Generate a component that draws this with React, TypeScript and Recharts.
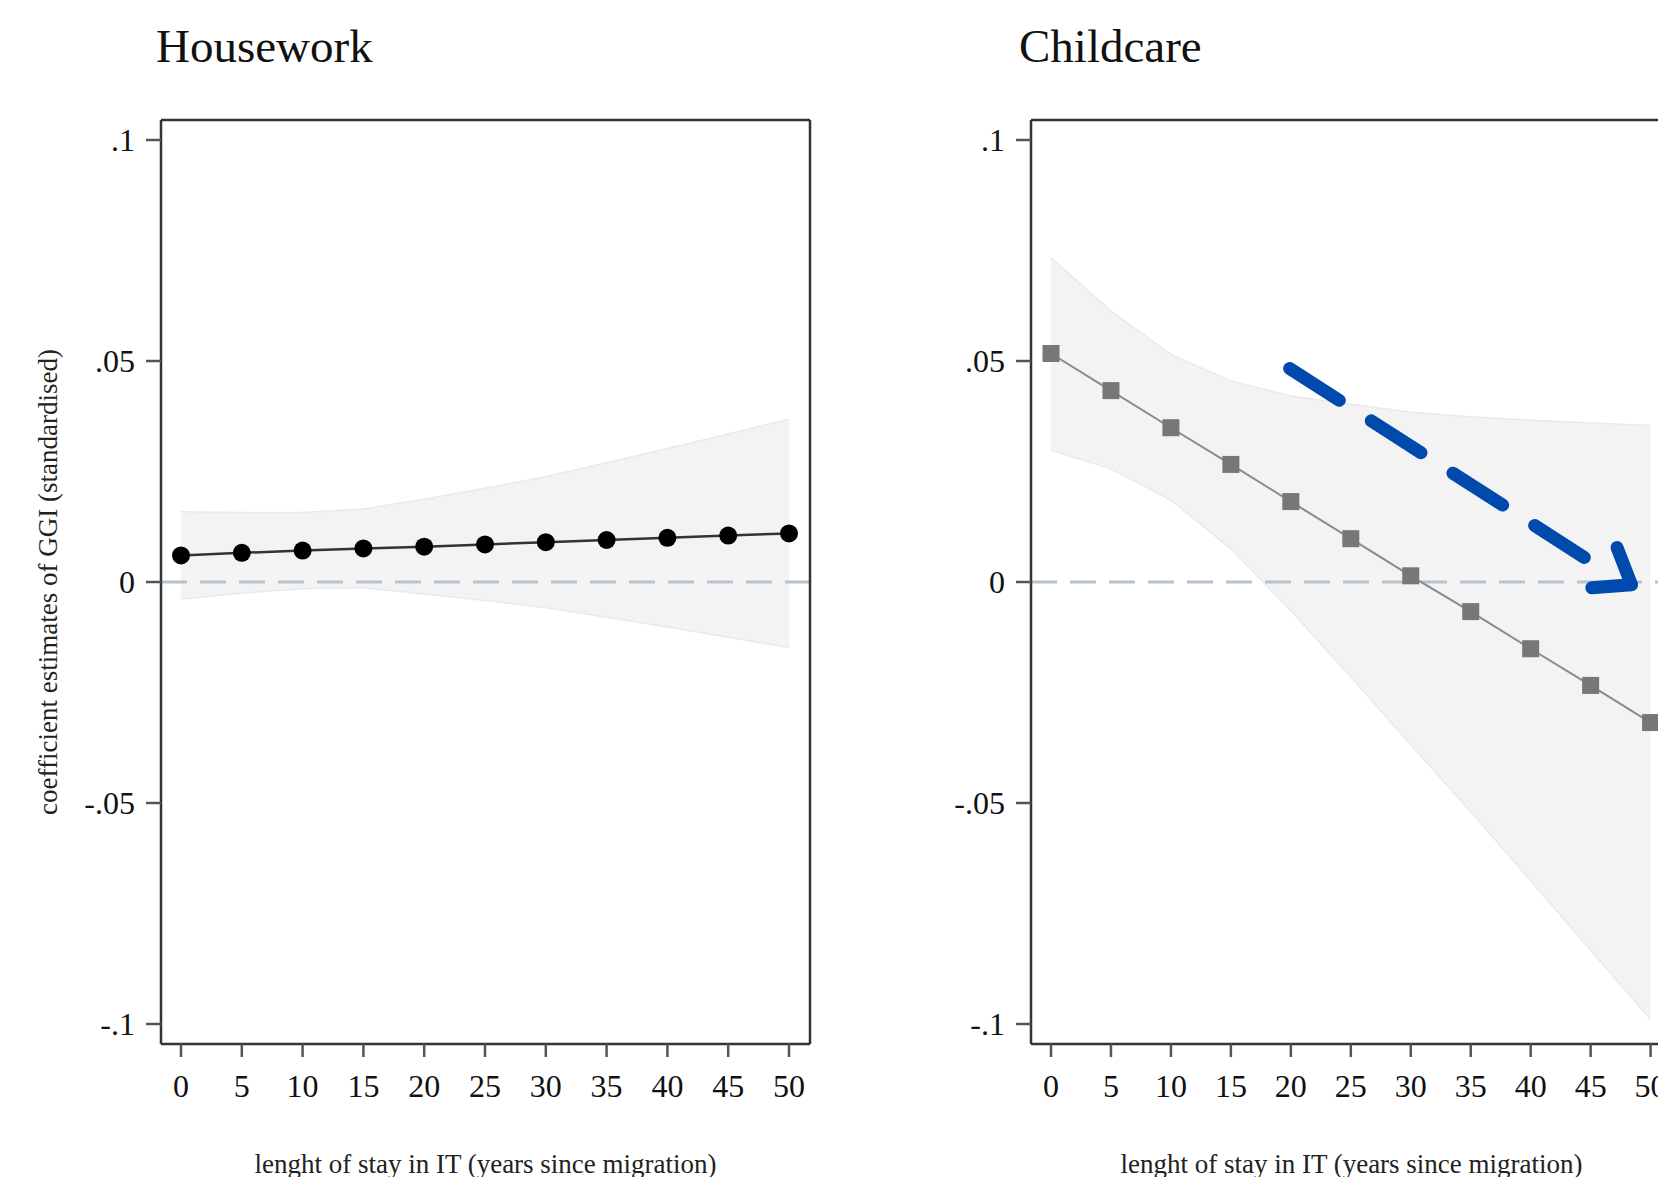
import React from 'react';
import { ComposedChart, Area, Line, XAxis, YAxis, ReferenceLine } from 'recharts';

// ---- data ----
const years = [0, 5, 10, 15, 20, 25, 30, 35, 40, 45, 50];

const houseworkEst = [0.006, 0.0066, 0.0071, 0.0076, 0.008, 0.0085, 0.009, 0.0095, 0.01, 0.0105, 0.011];
const houseworkUpper = [0.0159, 0.0157, 0.0157, 0.0165, 0.0187, 0.0212, 0.0238, 0.027, 0.0302, 0.0335, 0.0368];
const houseworkLower = [-0.0039, -0.0025, -0.0015, -0.0013, -0.0027, -0.0042, -0.0058, -0.008, -0.0102, -0.0125, -0.0148];

const childcareEst = [0.0517, 0.0433, 0.0349, 0.0266, 0.0182, 0.0098, 0.0014, -0.0067, -0.0151, -0.0234, -0.0318];
const childcareUpper = [0.0734, 0.0613, 0.0515, 0.0455, 0.0421, 0.0402, 0.0384, 0.0374, 0.0366, 0.036, 0.0354];
const childcareLower = [0.0298, 0.0256, 0.0185, 0.0075, -0.0065, -0.0215, -0.0368, -0.052, -0.0676, -0.0833, -0.099];

const xTicks = [0, 5, 10, 15, 20, 25, 30, 35, 40, 45, 50];
const yTicks = [-0.1, -0.05, 0, 0.05, 0.1];
const yTickLabels = ['-.1', '-.05', '0', '.05', '.1'];

const panelTitles = ['Housework', 'Childcare'];
const xAxisTitle = 'lenght of stay in IT (years since migration)';
const yAxisTitle = 'coefficient estimates of GGI (standardised)';

// annotation arrow (data coordinates of the Childcare panel)
const arrowShaft = [
  { x: 19.9, y: 0.0483 },
  { x: 45.6, y: 0.0036 },
];
const arrowHead = [
  { x: 47.2, y: 0.0078 },
  { x: 48.4, y: -0.0006 },
  { x: 45.1, y: -0.0013 },
];

const houseworkData = years.map((yr, i) => ({
  year: yr,
  est: houseworkEst[i],
  band: [houseworkLower[i], houseworkUpper[i]],
}));
const childcareData = years.map((yr, i) => ({
  year: yr,
  est: childcareEst[i],
  band: [childcareLower[i], childcareUpper[i]],
}));

const FONT = '"Liberation Serif", "Times New Roman", serif';
const FRAME = '#333';
const ARROW = '#004AAD';

const YLabel = (props: any) => {
  const vb = props.viewBox || {};
  const cx = (vb.x || 0) + 48;
  const cy = (vb.y || 0) + (vb.height || 0) / 2;
  return (
    <text
      x={cx}
      y={cy}
      transform={`rotate(-90 ${cx} ${cy})`}
      textAnchor="middle"
      dominantBaseline="central"
      fontSize={27}
      fontFamily={FONT}
      fill="#222"
    >
      {yAxisTitle}
    </text>
  );
};

const SquareDot = (props: any) => {
  const { cx, cy, index } = props;
  if (cx == null || cy == null) return <g key={`sq-${index}`} />;
  return <rect key={`sq-${index}`} x={cx - 8.5} y={cy - 8.5} width={17} height={17} fill="#777777" />;
};

const arrowShape = (dash?: string) => (p: any) => (
  <line
    x1={p.x1}
    y1={p.y1}
    x2={p.x2}
    y2={p.y2}
    stroke={ARROW}
    strokeWidth={13}
    strokeLinecap="round"
    strokeDasharray={dash}
    fill="none"
  />
);

type PanelProps = {
  data: any[];
  width: number;
  padRight: number;
  showYLabel: boolean;
  kind: 'circle' | 'square';
  arrow?: boolean;
};

const Panel = ({ data, width, padRight, showYLabel, kind, arrow }: PanelProps) => {
  const tickStyle = { fontSize: 32, fill: '#111', fontFamily: FONT };
  return (
    <ComposedChart width={width} height={1177} data={data} margin={{ top: 119, right: 19, bottom: 0, left: 0 }}>
      <XAxis
        dataKey="year"
        type="number"
        domain={[0, 50]}
        ticks={xTicks}
        interval={0}
        padding={{ left: 20, right: padRight }}
        height={133}
        tickSize={13}
        tickMargin={17}
        tick={tickStyle}
        tickLine={{ stroke: '#555', strokeWidth: 2.5 }}
        axisLine={{ stroke: FRAME, strokeWidth: 2.5 }}
        label={{ value: xAxisTitle, position: 'insideBottom', offset: 4, fontSize: 27, fontFamily: FONT, fill: '#222' }}
      />
      <XAxis
        xAxisId="top"
        orientation="top"
        type="number"
        domain={[0, 50]}
        height={1}
        tick={false}
        tickLine={false}
        axisLine={{ stroke: FRAME, strokeWidth: 2.5 }}
      />
      <YAxis
        type="number"
        domain={[-0.1, 0.1]}
        ticks={yTicks}
        interval={0}
        padding={{ top: 20, bottom: 20 }}
        width={161}
        tickSize={15}
        tickMargin={11}
        tick={tickStyle}
        tickFormatter={(_v: number, i: number) => yTickLabels[i]}
        tickLine={{ stroke: '#555', strokeWidth: 2.5 }}
        axisLine={{ stroke: FRAME, strokeWidth: 2.5 }}
        label={showYLabel ? <YLabel /> : undefined}
      />
      <YAxis
        yAxisId="right"
        orientation="right"
        type="number"
        domain={[-0.1, 0.1]}
        width={1}
        tick={false}
        tickLine={false}
        axisLine={{ stroke: FRAME, strokeWidth: 2.5 }}
      />
      <Area
        dataKey="band"
        type="linear"
        fill="#f3f3f3"
        fillOpacity={1}
        stroke="#eaeaea"
        strokeWidth={1.5}
        isAnimationActive={false}
        activeDot={false}
      />
      <ReferenceLine y={0} stroke="#b5c3d1" strokeWidth={3} strokeDasharray="26 13" />
      {kind === 'circle' ? (
        <Line
          dataKey="est"
          type="linear"
          stroke="#333"
          strokeWidth={2.5}
          dot={{ r: 9, fill: '#000', stroke: '#000', strokeWidth: 0 }}
          activeDot={false}
          isAnimationActive={false}
        />
      ) : (
        <Line
          dataKey="est"
          type="linear"
          stroke="#8a8a8a"
          strokeWidth={2}
          dot={(p: any) => <SquareDot {...p} />}
          activeDot={false}
          isAnimationActive={false}
        />
      )}
      {arrow && <ReferenceLine segment={arrowShaft} shape={arrowShape('59 38')} ifOverflow="visible" />}
      {arrow && <ReferenceLine segment={[arrowHead[0], arrowHead[1]]} shape={arrowShape()} ifOverflow="visible" />}
      {arrow && <ReferenceLine segment={[arrowHead[1], arrowHead[2]]} shape={arrowShape()} ifOverflow="visible" />}
    </ComposedChart>
  );
};

const titleStyle: React.CSSProperties = {
  position: 'absolute',
  top: 23,
  fontSize: 47,
  lineHeight: '47px',
  fontFamily: FONT,
  color: '#111',
  whiteSpace: 'nowrap',
};

export default function App() {
  return (
    <div
      style={{
        position: 'fixed',
        left: 0,
        top: 0,
        width: 1658,
        height: 1177,
        overflow: 'hidden',
        background: '#fff',
        fontFamily: FONT,
      }}
    >
      <div style={{ ...titleStyle, left: 156 }}>{panelTitles[0]}</div>
      <div style={{ ...titleStyle, left: 1019 }}>{panelTitles[1]}</div>
      <div style={{ position: 'absolute', left: 0, top: 0 }}>
        <Panel data={houseworkData} width={830} padRight={21} showYLabel kind="circle" />
      </div>
      <div style={{ position: 'absolute', left: 870, top: 0 }}>
        <Panel data={childcareData} width={822} padRight={21.4} showYLabel={false} kind="square" arrow />
      </div>
    </div>
  );
}
